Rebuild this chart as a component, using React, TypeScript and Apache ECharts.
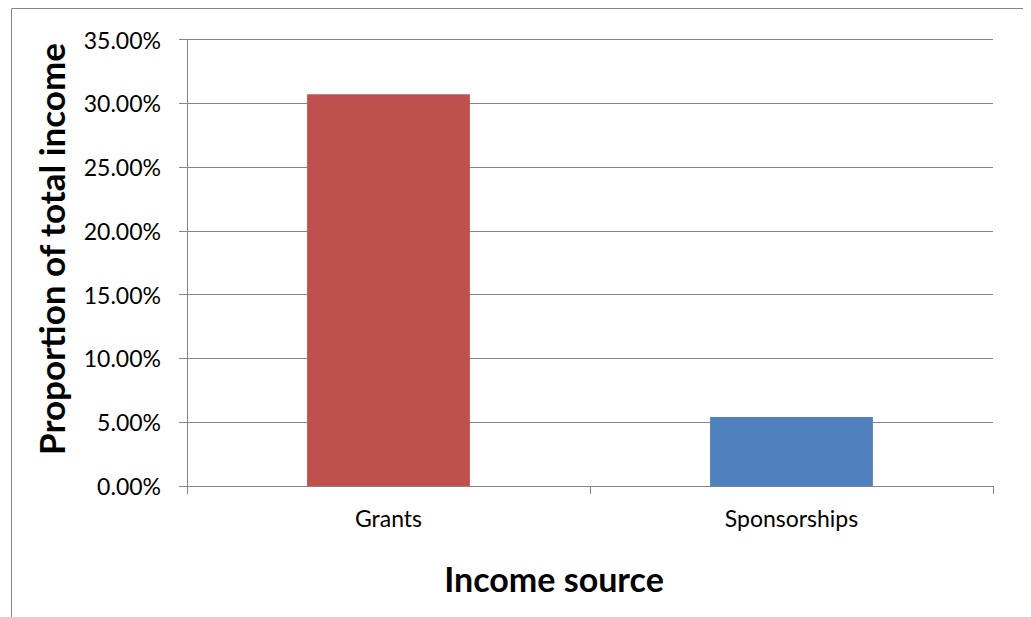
import React, { useEffect, useRef } from "react";
import * as echarts from "echarts";

const categories = ["Grants", "Sponsorships"];
const values = [30.71, 5.41];
const barColors = ["#C0504D", "#4F81BD"];
const yMin = 0;
const yMax = 35;
const yInterval = 5;
const xTitle = "Income source";
const yTitle = "Proportion of total income";

export default function App() {
  const ref = useRef<HTMLDivElement>(null);
  useEffect(() => {
    if (!ref.current) return;
    const chart = echarts.init(ref.current, undefined, { renderer: "svg" });
    const gray = "#868686";
    chart.setOption({
      animation: false,
      backgroundColor: "#ffffff",
      grid: { left: 179, top: 31.5, width: 806, height: 446.5, containLabel: false },
      xAxis: {
        type: "category",
        data: categories,
        axisLine: { lineStyle: { color: gray, width: 1 } },
        axisTick: { show: true, length: 8, lineStyle: { color: gray } },
        axisLabel: { color: "#000", fontFamily: "Lato", fontSize: 23, margin: 20 },
      },
      yAxis: {
        type: "value",
        min: yMin,
        max: yMax,
        interval: yInterval,
        axisLine: { show: true, lineStyle: { color: gray, width: 1 } },
        axisTick: { show: true, length: 8, lineStyle: { color: gray } },
        splitLine: { show: true, lineStyle: { color: gray, width: 1 } },
        axisLabel: {
          color: "#000",
          fontFamily: "Lato",
          fontSize: 23,
          margin: 26,
          formatter: (v: number) => v.toFixed(2) + "%",
        },
      },
      series: [
        {
          type: "bar",
          barWidth: "40.4%",
          data: values.map((v, i) => ({ value: v, itemStyle: { color: barColors[i] } })),
        },
      ],
      graphic: [
        {
          type: "polyline",
          shape: { points: [[3.5, 700], [3.5, 0.5], [1100, 0.5]] },
          style: { fill: "none", stroke: gray, lineWidth: 1 },
          silent: true,
        },
        {
          type: "text",
          x: 546,
          y: 570,
          style: {
            text: xTitle,
            fontFamily: "Lato",
            fontWeight: "bold",
            fontSize: 34,
            fill: "#000",
            align: "center",
            verticalAlign: "middle",
          },
        },
        {
          type: "text",
          x: 43,
          y: 241,
          rotation: Math.PI / 2,
          style: {
            text: yTitle,
            fontFamily: "Lato",
            fontWeight: "bold",
            fontSize: 35,
            fill: "#000",
            align: "center",
            verticalAlign: "middle",
          },
        },
      ],
    });
    return () => chart.dispose();
  }, []);
  return <div ref={ref} style={{ width: 1023, height: 609 }} />;
}
